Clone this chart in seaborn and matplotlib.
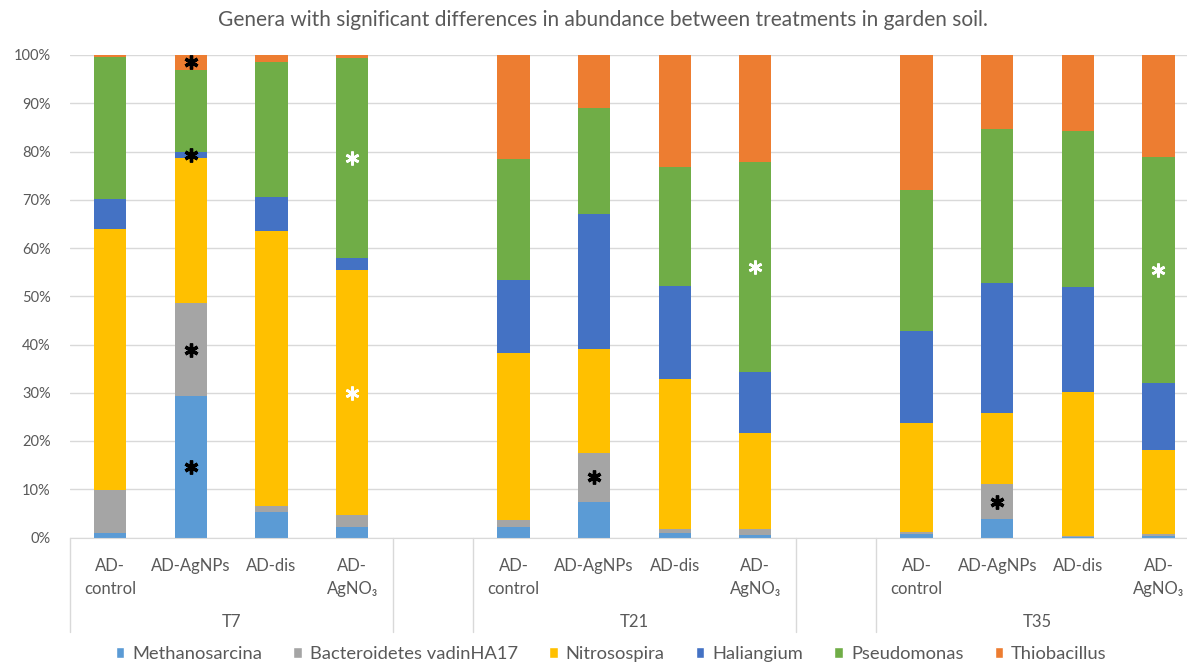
import numpy as np
import pandas as pd
import seaborn as sns
import matplotlib.pyplot as plt
from matplotlib.patches import Patch
from matplotlib.transforms import blended_transform_factory

sns.set_style("white")
plt.rcParams['font.family'] = ['Lato', 'DejaVu Sans']

# Datos (% de abundancia relativa)
groups = ['T7', 'T21', 'T35']
treatments = ['AD-control', 'AD-AgNPs', 'AD-dis', 'AD-AgNO3']
tick_labels = ['AD-\ncontrol', 'AD-AgNPs', 'AD-dis', 'AD-\nAgNO₃']
genera = ['Methanosarcina', 'Bacteroidetes vadinHA17', 'Nitrosospira',
          'Haliangium', 'Pseudomonas', 'Thiobacillus']
colors = ['#5B9BD5', '#A5A5A5', '#FFC000', '#4472C4', '#70AD47', '#ED7D31']

# 12 barras: T7 x 4 tratamientos, T21 x 4, T35 x 4
methanosarcina = [1.0, 29.3, 5.3, 2.2, 2.1, 7.4, 0.9, 0.5, 0.7, 3.8, 0.2, 0.4]
bacteroidetes = [8.8, 19.2, 1.3, 2.4, 1.5, 10.1, 0.9, 1.3, 0.5, 7.3, 0.2, 0.3]
nitrosospira = [54.1, 30.1, 57.0, 50.8, 34.7, 21.6, 31.0, 19.8, 22.6, 14.8, 29.8, 17.4]
haliangium = [6.2, 1.2, 7.0, 2.5, 15.1, 27.9, 19.3, 12.8, 18.9, 26.8, 21.7, 13.9]
pseudomonas = [29.4, 17.1, 27.9, 41.4, 25.1, 22.1, 24.6, 43.5, 29.3, 32.0, 32.3, 46.9]
thiobacillus = [0.5, 3.1, 1.5, 0.7, 21.5, 10.9, 23.3, 22.1, 28.0, 15.3, 15.8, 21.1]

# diferencias significativas (grupo, tratamiento, género, color del asterisco)
stars = [('T7', 'AD-AgNPs', 'Methanosarcina', 'black'),
         ('T7', 'AD-AgNPs', 'Bacteroidetes vadinHA17', 'black'),
         ('T7', 'AD-AgNPs', 'Haliangium', 'black'),
         ('T7', 'AD-AgNPs', 'Thiobacillus', 'black'),
         ('T7', 'AD-AgNO3', 'Nitrosospira', 'white'),
         ('T7', 'AD-AgNO3', 'Pseudomonas', 'white'),
         ('T21', 'AD-AgNPs', 'Bacteroidetes vadinHA17', 'black'),
         ('T21', 'AD-AgNO3', 'Pseudomonas', 'white'),
         ('T35', 'AD-AgNPs', 'Bacteroidetes vadinHA17', 'black'),
         ('T35', 'AD-AgNO3', 'Pseudomonas', 'white')]

values = [methanosarcina, bacteroidetes, nitrosospira, haliangium, pseudomonas, thiobacillus]

rows = []
for gi, g in enumerate(groups):
    for ti, t in enumerate(treatments):
        i = gi * len(treatments) + ti
        cum = 0
        for gen, vals in zip(genera, values):
            cum += vals[i]
            rows.append({'bar': f'{g} {t}', 'genus': gen, 'value': vals[i],
                         'top': cum, 'mid': cum - vals[i] / 2})
df = pd.DataFrame(rows)

# orden de categorías con un hueco entre grupos (como en Excel)
order = []
for gi, g in enumerate(groups):
    order += [f'{g} {t}' for t in treatments]
    if gi < len(groups) - 1:
        order.append(f'gap{gi}')

txt = '#595959'
fig = plt.figure(figsize=(11.87, 6.63), dpi=100)
ax = fig.add_axes([70 / 1187, 1 - 537.5 / 663, 1 - 70 / 1187, 482.5 / 663])

# barras apiladas: se dibuja el acumulado de arriba hacia abajo
for gen, c in list(zip(genera, colors))[::-1]:
    sns.barplot(data=df[df['genus'] == gen], x='bar', y='top', order=order,
                color=c, saturation=1, width=0.4, errorbar=None,
                linewidth=0, ax=ax)

# asteriscos
for g, t, gen, c in stars:
    r = df[(df['bar'] == f'{g} {t}') & (df['genus'] == gen)].iloc[0]
    ax.plot(order.index(r['bar']), r['mid'], marker=(6, 2, 0), ms=10,
            mew=2.4 if c == 'black' else 1.9, color=c, zorder=5)

ax.set_ylim(0, 100)
ax.set_xlim(-0.5, 13.354)
ax.set_yticks(np.arange(0, 101, 10))
ax.set_yticklabels([f'{v}%' for v in range(0, 101, 10)], color=txt, fontsize=10.5)
ax.yaxis.grid(True, color='#D9D9D9', lw=1)
ax.set_axisbelow(True)
for s in ['top', 'right', 'left']:
    ax.spines[s].set_visible(False)
ax.spines['bottom'].set_color('#D9D9D9')
ax.tick_params(axis='both', length=0)
ax.tick_params(axis='y', pad=14)

labels = []
for o in order:
    labels.append('' if o.startswith('gap') else tick_labels[treatments.index(o.split(' ', 1)[1])])
ax.set_xticks(range(len(order)))
ax.set_xticklabels(labels, color=txt, fontsize=12, linespacing=1.5, va='top')
ax.tick_params(axis='x', pad=15)
ax.set_xlabel('')
ax.set_ylabel('')

# etiquetas de grupo y separadores del eje multinivel
tr = blended_transform_factory(ax.transData, ax.transAxes)
edges = [-0.5]
for gi, g in enumerate(groups):
    idx = [order.index(f'{g} {t}') for t in treatments]
    ax.text(np.mean(idx), -0.175, g, transform=tr, ha='center', va='center',
            color=txt, fontsize=12)
    edges += [idx[-1] + 0.5]
    if gi < len(groups) - 1:
        edges += [idx[-1] + 1.5]
for e in edges:
    ax.plot([e, e], [0, -0.196], transform=tr, color='#D9D9D9', lw=1, clip_on=False)

fig.text(0.508, 1 - 20 / 663,
         'Genera with significant differences in abundance between treatments in garden soil.',
         ha='center', va='center', color=txt, fontsize=15)

handles = [Patch(facecolor=c, label=g) for g, c in zip(genera, colors)]
fig.legend(handles=handles, loc='center', bbox_to_anchor=(0.515, 9 / 663), ncol=6,
           frameon=False, fontsize=13.2, labelcolor=txt, handlelength=0.45,
           handleheight=0.6, handletextpad=0.45, columnspacing=1.7)

fig.savefig('out.png', dpi=100)
